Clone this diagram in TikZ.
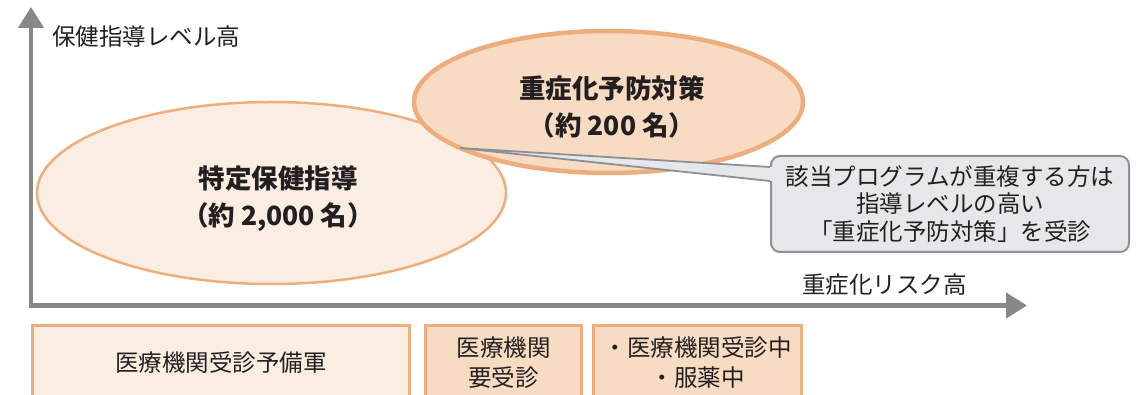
\documentclass[tikz,border=0pt]{standalone}
\usepackage{fontspec}
\setmainfont{Noto Sans CJK JP}
\usetikzlibrary{arrows.meta,shapes.geometric}
\definecolor{lightfill}{HTML}{FAEEE3}
\definecolor{darkfill}{HTML}{F7DBC3}
\definecolor{orangeline}{HTML}{EEAD7C}
\definecolor{axisgray}{HTML}{878787}
\definecolor{calfill}{HTML}{E6E7E8}
\definecolor{calline}{HTML}{8E9094}
\definecolor{textcol}{HTML}{231F20}
\tikzset{
  txt/.style={font=\fontsize{23.5}{27.5}\selectfont, text=textcol, inner sep=0pt},
  title/.style={font=\bfseries\fontsize{26.5}{37}\selectfont, text=textcol, inner sep=0pt, align=center},
  axisline/.style={draw=axisgray, line width=4.5pt, line join=miter},
  bubble/.style={ellipse, draw=orangeline, inner sep=0pt},
  boxnode/.style={rectangle, draw=orangeline, line width=3pt, inner sep=0pt, align=center,
    font=\fontsize{23.5}{30}\selectfont, text=textcol, minimum height=74pt},
  calloutbox/.style={rectangle, rounded corners=9pt, draw=calline, line width=2pt, fill=calfill,
    minimum width=358pt, minimum height=96pt, align=center, inner sep=0pt,
    font=\fontsize{23.5}{27.5}\selectfont, text=textcol}
}
\begin{document}
\begin{tikzpicture}[x=1pt,y=-1pt]
\useasboundingbox (0,0) rectangle (1141,395);
\clip (0,0) rectangle (1141,395);
% axes
\coordinate (O) at (31,305.5);
\coordinate (ytip) at (31,7);
\coordinate (xtip) at (1027,305.5);
\draw[axisline, {Triangle[length=21pt,width=25pt]}-{Triangle[length=21pt,width=25pt]}] (ytip) -- (O) -- (xtip);
\node[txt, anchor=west] (ylab) at (52,37) {保健指導レベル高};
\node[txt, anchor=west] (xlab) at (802,285) {重症化リスク高};
% ellipses
\node[bubble, fill=lightfill, line width=2.5pt, minimum width=469pt, minimum height=182pt] (lower) at (271.5,193) {};
\node[title] (lowertxt) at (278,198.5) {特定保健指導\\（約 2,000 名）};
\node[bubble, fill=darkfill, line width=4.5pt, minimum width=389pt, minimum height=142pt] (upper) at (608.5,102) {};
\node[title] (uppertxt) at (612,106.5) {重症化予防対策\\（約 200 名）};
% callout
\node[calloutbox] (note) at (950,204) {該当プログラムが重複する方は\\指導レベルの高い\\「重症化予防対策」を受診};
\coordinate (tip) at (460,148);
\coordinate (wa) at (770,167);
\coordinate (wb) at (770,181);
\fill[calfill] (tip) -- (wa) -- ([xshift=6pt]wa) -- ([xshift=6pt]wb) -- (wb) -- cycle;
\draw[calline, line width=1.8pt] (wa) -- (tip) -- (wb);
% boxes
\node[boxnode, fill=lightfill, minimum width=377pt] (b1) at (221,363) {医療機関受診予備軍};
\node[boxnode, fill=darkfill, minimum width=156pt] (b2) at (503.5,363) {医療機関\\要受診};
\node[boxnode, fill=darkfill, minimum width=208pt] (b3) at (697.5,363) {・医療機関受診中\\・服薬中};
\end{tikzpicture}
\end{document}
